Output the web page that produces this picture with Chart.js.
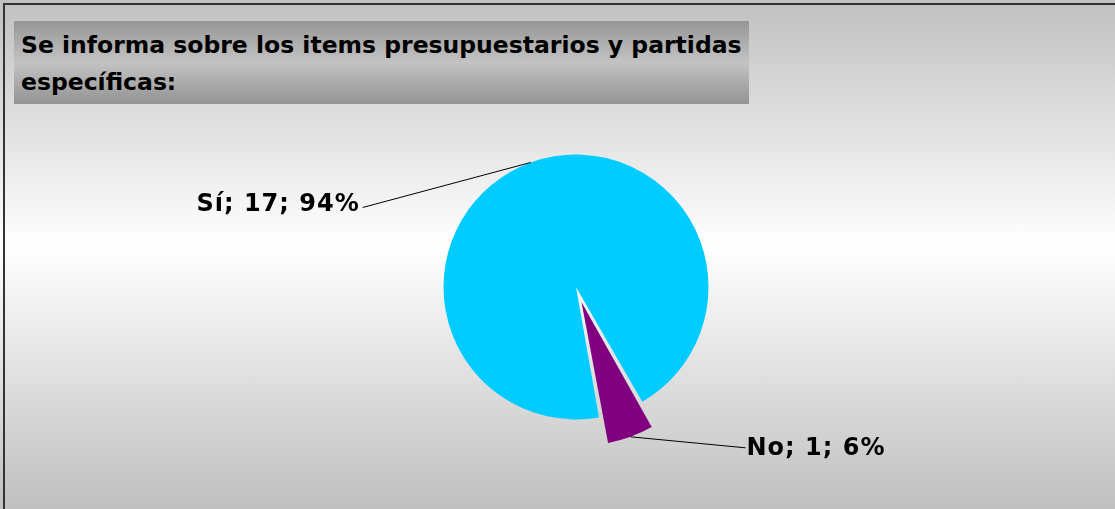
<!DOCTYPE html>
<html>
<head>
<meta charset="utf-8">
<script src="https://cdn.jsdelivr.net/npm/chart.js@4.4.1/dist/chart.umd.min.js"></script>
<style>
  html, body { margin: 0; padding: 0; }
  body {
    width: 1115px; height: 509px; overflow: hidden; position: relative;
    background: linear-gradient(to bottom, #c0c0c0 0%, #ffffff 48%, #c0c0c0 100%);
  }
  .frame {
    position: absolute; left: 3px; top: 3px; width: 1112px; height: 506px;
    border-left: 2px solid #333; border-top: 2px solid #333; box-sizing: border-box;
  }
  .title {
    position: absolute; left: 14px; top: 21px; width: 735px; height: 83px;
    background: linear-gradient(to bottom, #969696 0%, #c3c3c3 50%, #939393 100%);
    font-family: "DejaVu Sans", sans-serif; font-weight: bold; font-size: 23.5px;
    line-height: 37px; color: #000; box-sizing: border-box; padding: 6px 0 0 7px;
    white-space: nowrap;
  }
  #chart { position: absolute; left: 0; top: 0; }
</style>
</head>
<body>
<div class="frame"></div>
<canvas id="chart" width="1115" height="509"></canvas>
<div class="title">Se informa sobre los items presupuestarios y partidas<br>específicas:</div>
<script>
// data
const categories = ['Sí', 'No'];
const counts = [17, 1];
const sliceColors = ['#00ccff', '#800080'];

const total = counts.reduce((a, b) => a + b, 0);

// where each label's leader line ends, relative to the slice edge point
const labelShift = [[-168, 45], [115, 11]];

const pieLabels = {
  id: 'pieLabels',
  afterDatasetsDraw(chart) {
    const ctx = chart.ctx;
    const meta = chart.getDatasetMeta(0);
    meta.data.forEach((arc, i) => {
      const p = arc.getProps(['x', 'y', 'startAngle', 'endAngle', 'outerRadius', 'circumference'], true);
      const mid = (p.startAngle + p.endAngle) / 2;
      const off = (arc.options.offset || 0) / 4;
      const fix = 1 - Math.sin(Math.min(Math.PI, p.circumference || 0));
      const r = p.outerRadius + off + off * fix;
      const ax = p.x + Math.cos(mid) * r;
      const ay = p.y + Math.sin(mid) * r;
      const ex = ax + labelShift[i][0];
      const ey = ay + labelShift[i][1];

      ctx.save();
      ctx.strokeStyle = '#000';
      ctx.lineWidth = 1;
      ctx.beginPath();
      ctx.moveTo(ax, ay);
      ctx.lineTo(ex, ey);
      ctx.stroke();

      const pct = Math.round(counts[i] / total * 100);
      const text = categories[i] + '; ' + counts[i] + '; ' + pct + '%';
      ctx.font = 'bold 24px "DejaVu Sans"';
      ctx.letterSpacing = '1px';
      ctx.fillStyle = '#000';
      ctx.textBaseline = 'middle';
      if (labelShift[i][0] < 0) {
        ctx.textAlign = 'right';
        ctx.fillText(text, ex - 3, ey - 3);
      } else {
        ctx.textAlign = 'left';
        ctx.fillText(text, ex + 1, ey + 1);
      }
      ctx.restore();
    });
  }
};

new Chart(document.getElementById('chart').getContext('2d'), {
  type: 'pie',
  data: {
    labels: categories,
    datasets: [{
      data: counts,
      backgroundColor: sliceColors,
      borderWidth: 0,
      offset: [0, 65]
    }]
  },
  options: {
    responsive: false,
    animation: false,
    events: [],
    rotation: 170,
    radius: 132.5,
    layout: { padding: { left: 37, right: 0, top: 65, bottom: 0 } },
    plugins: {
      legend: { display: false },
      tooltip: { enabled: false },
      title: { display: false }
    }
  },
  plugins: [pieLabels]
});
</script>
</body>
</html>
